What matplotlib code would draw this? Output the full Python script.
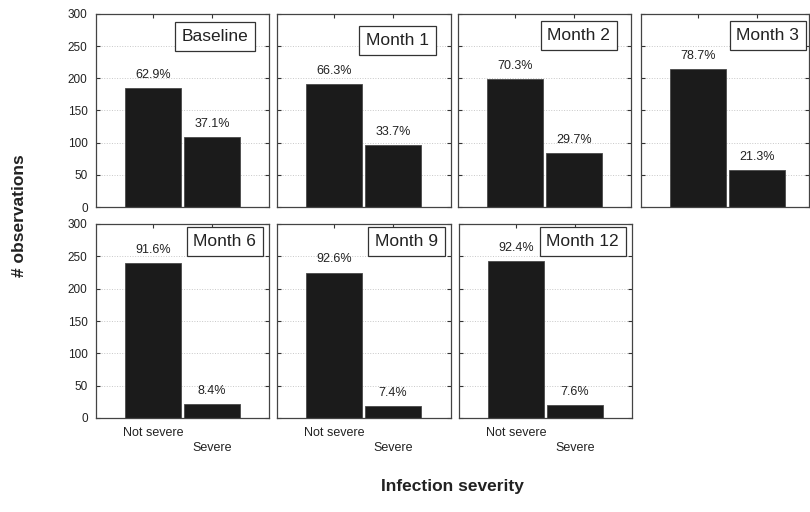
import numpy as np
import matplotlib
matplotlib.use('Agg')
import matplotlib.pyplot as plt

plt.rcParams['font.family'] = ['Liberation Sans', 'DejaVu Sans']

# counts of observations per visit
visits = ['Baseline', 'Month 1', 'Month 2', 'Month 3', 'Month 6', 'Month 9', 'Month 12']
not_severe = [185, 191, 199, 214, 240, 225, 243]
severe = [109, 97, 84, 58, 22, 18, 20]
categories = ['Not severe', 'Severe']
yticks = [0, 50, 100, 150, 200, 250, 300]

W, H = 810, 512
fig = plt.figure(figsize=(W / 100, H / 100), dpi=100)

# panel boxes in pixels: left, top, width, height
panels = [(96, 14, 173, 193), (277, 14, 174, 193), (458, 14, 173, 193), (641, 14, 168, 193),
          (96, 224, 173, 194), (277, 224, 174, 194), (459, 224, 173, 194)]
# label box insets from the top-right corner (pixels)
box_inset = [(14, 9), (15, 13), (14, 8), (3, 8), (6, 4), (6, 4), (6, 4)]

for i, name in enumerate(visits):
    l, t, w, h = panels[i]
    ax = fig.add_axes([l / W, 1 - (t + h) / H, w / W, h / H])
    vals = [not_severe[i], severe[i]]
    total = sum(vals)
    x = np.arange(2)
    ax.bar(x, vals, width=0.96, color='#1b1b1b', edgecolor='#4a4a4a', linewidth=0.6, zorder=2)
    for xi, v in zip(x, vals):
        ax.annotate('%.1f%%' % (100.0 * v / total), xy=(xi, v), xytext=(0, 7),
                    textcoords='offset pixels', ha='center', va='bottom',
                    fontsize=9, color='#222222', zorder=3)
    ax.set_xlim(-0.98, -0.98 + w / 58.5)
    ax.set_ylim(0, 300)
    ax.set_yticks(yticks)
    ax.set_xticks(x)
    ax.grid(axis='y', ls=':', color='#c8c8c8', lw=0.7, zorder=0)
    ax.tick_params(direction='in', top=True, right=True, length=3, width=0.8,
                   labelsize=8.5, colors='#333333', labelcolor='#222222')
    for s in ax.spines.values():
        s.set_color('#444444')
        s.set_linewidth(0.9)
    if l == 96:
        ax.tick_params(axis='y', pad=6)
    else:
        ax.set_yticklabels([])
    if i >= 4:
        ax.set_xticklabels(categories, fontsize=9)
        ticks = ax.xaxis.get_major_ticks()
        ticks[0].set_pad(6.5)
        ticks[1].set_pad(17.5)
    else:
        ax.set_xticklabels([])
    dx, dy = box_inset[i]
    ax.annotate(name, xy=(1, 1), xycoords='axes fraction', xytext=(-dx - 7, -dy - 6),
                textcoords='offset pixels', ha='right', va='top', fontsize=12.5,
                color='#222222', zorder=5,
                bbox=dict(boxstyle='square,pad=0.38', fc='white', ec='#333333', lw=0.9))

fig.text(20 / W, 1 - 216 / H, '# observations', rotation=90, ha='center', va='center',
         fontsize=12.5, fontweight='bold', color='#222222')
fig.text(452 / W, 1 - 487 / H, 'Infection severity', ha='center', va='center',
         fontsize=12.5, fontweight='bold', color='#222222')

fig.savefig('out.png', dpi=100)
